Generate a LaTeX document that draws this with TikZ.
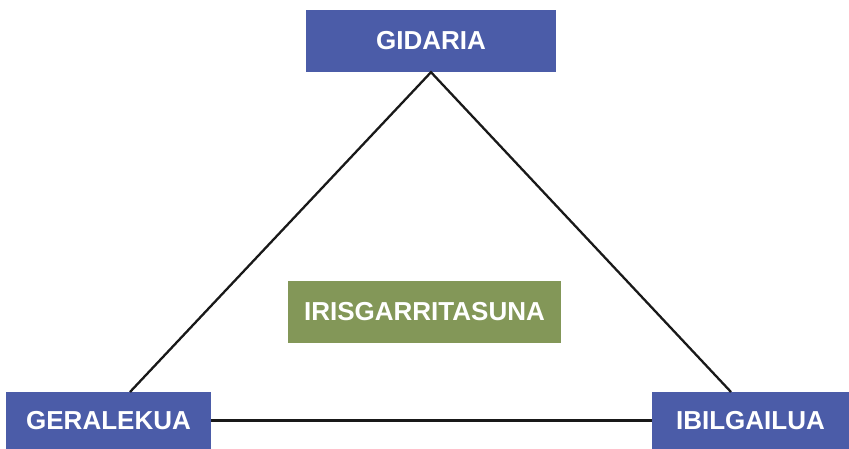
\documentclass[tikz,border=0pt]{standalone}
\usepackage{fontspec}
\setmainfont{Liberation Sans}
\definecolor{boxblue}{RGB}{75,92,168}
\definecolor{boxgreen}{RGB}{131,151,88}
\begin{document}
\begin{tikzpicture}[x=1pt,y=-1pt,
  lbl/.style={fill=#1,text=white,inner sep=0pt,font=\fontsize{26}{30}\selectfont\bfseries},
  link/.style={draw=black!90,line width=2.3pt}]
\useasboundingbox (0,0) rectangle (849,449);
\node[lbl=boxblue,minimum width=250pt,minimum height=62pt] (gid) at (431,41) {GIDARIA};
\node[lbl=boxblue,minimum width=205pt,minimum height=57pt] (ger) at (108.5,420.5) {GERALEKUA};
\node[lbl=boxblue,minimum width=197pt,minimum height=57pt] (ibi) at (750.5,420.5) {IBILGAILUA};
\node[lbl=boxgreen,minimum width=273pt,minimum height=62pt] (iri) at (424.5,312) {IRISGARRITASUNA};
\coordinate (gl) at (130,392);
\coordinate (il) at (731,392);
\draw[link] (gl) -- (gid.south) -- (il);
\draw[link] (ger.east) -- (ibi.west);
\end{tikzpicture}
\end{document}
